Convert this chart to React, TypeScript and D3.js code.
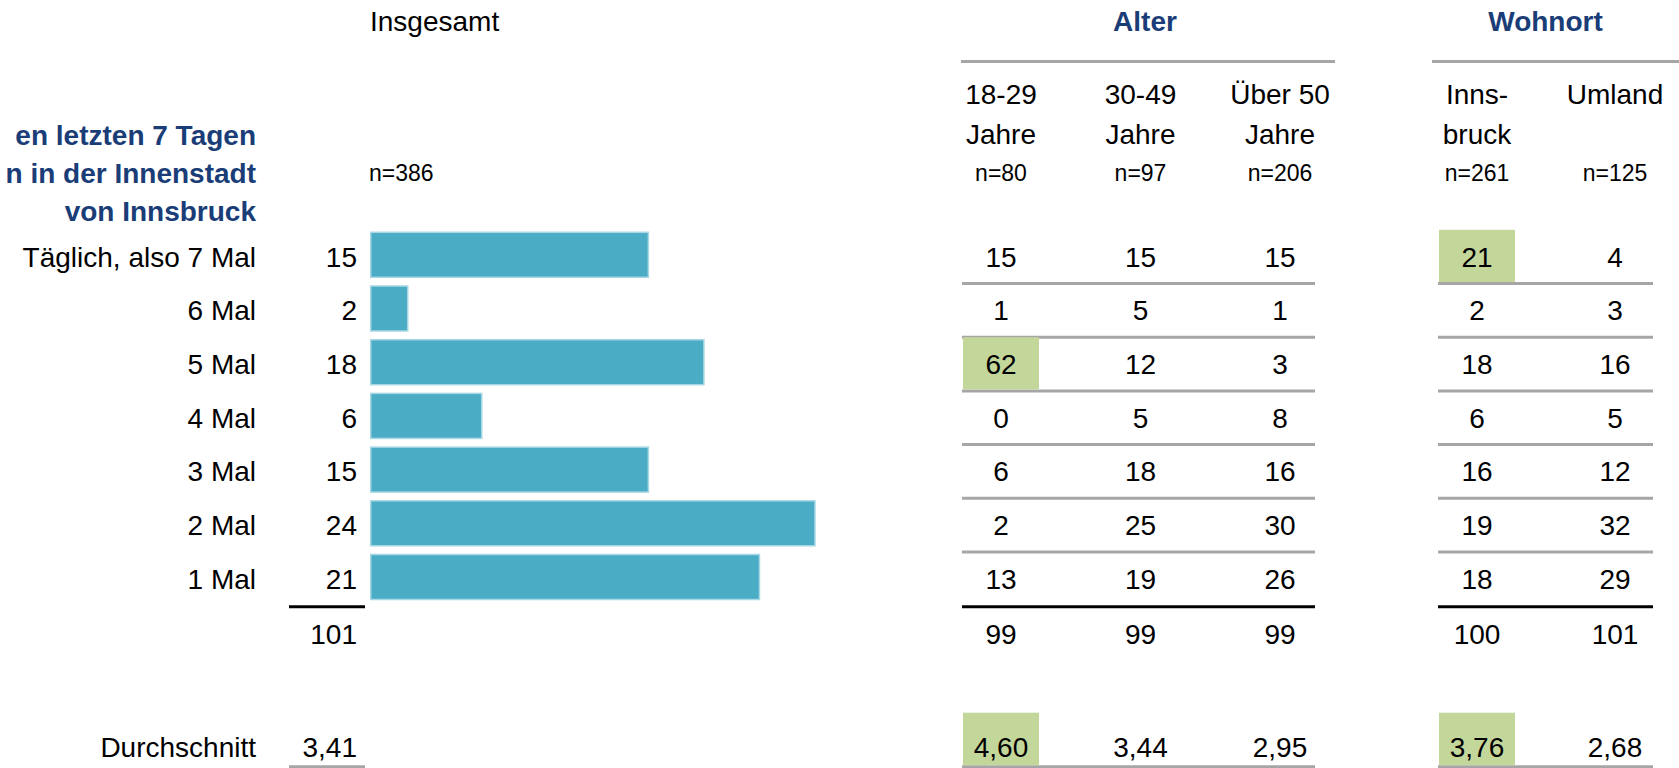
import React from "react";
import * as d3 from "d3";

const categories = ["Täglich, also 7 Mal", "6 Mal", "5 Mal", "4 Mal", "3 Mal", "2 Mal", "1 Mal"];
const insgesamt = [15, 2, 18, 6, 15, 24, 21];
const insgesamtTotal = "101";
const insgesamtAvg = "3,41";
const insgesamtN = "n=386";

const alterCols = ["18-29", "30-49", "Über 50"];
const alterHeader = [["18-29", "Jahre"], ["30-49", "Jahre"], ["Über 50", "Jahre"]];
const alterN = ["n=80", "n=97", "n=206"];
const alterValues = [
  [15, 1, 62, 0, 6, 2, 13],
  [15, 5, 12, 5, 18, 25, 19],
  [15, 1, 3, 8, 16, 30, 26],
];
const alterTotals = ["99", "99", "99"];
const alterAvg = ["4,60", "3,44", "2,95"];

const wohnCols = ["Innsbruck", "Umland"];
const wohnHeader = [["Inns-", "bruck"], ["Umland"]];
const wohnN = ["n=261", "n=125"];
const wohnValues = [
  [21, 2, 18, 6, 16, 19, 18],
  [4, 3, 16, 5, 12, 32, 29],
];
const wohnTotals = ["100", "101"];
const wohnAvg = ["3,76", "2,68"];

// highlighted cells: [column, rowIndex]
const highlights = [["18-29", 2], ["Innsbruck", 0]];
const avgHighlights = ["18-29", "Innsbruck"];

const titleLines = ["en letzten 7 Tagen", "n in der Innenstadt", "von Innsbruck"];

const W = 1679;
const H = 768;
const FONT = "'Liberation Sans', Arial, sans-serif";
const BLUE = "#1A3D78";
const GRAY = "#A6A6A6";
const BAR = "#4BACC6";
const GREEN = "#C4D79B";

export default function App() {
  const y = d3.scaleBand<string>().domain(categories).range([229.8, 229.8 + 7 * 53.7]).padding(0);
  const bw = y.bandwidth();
  const x = d3.scaleLinear().domain([0, 24]).range([370.7, 815]);
  const ax = d3.scalePoint<string>().domain(alterCols).range([1001, 1280]);
  const wx = d3.scalePoint<string>().domain(wohnCols).range([1477, 1615]);
  const colX = (c: string) => (alterCols.includes(c) ? ax(c)! : wx(c)!);
  const cellW = 76;

  const rowBase = (c: string) => y(c)! + bw / 2 + 10;
  const bottom = y.range()[1];
  const totalBase = bottom + 38;
  const avgBase = 757;
  const avgLine = 766.7;

  const allCols = [
    ...alterCols.map((c, i) => ({ c, vals: alterValues[i], total: alterTotals[i], avg: alterAvg[i], n: alterN[i], head: alterHeader[i] })),
    ...wohnCols.map((c, i) => ({ c, vals: wohnValues[i], total: wohnTotals[i], avg: wohnAvg[i], n: wohnN[i], head: wohnHeader[i] })),
  ];

  const groups = [
    { name: "Alter", cols: alterCols, x0: 961, x1: 1335, r0: 962, r1: 1315, off: -3 },
    { name: "Wohnort", cols: wohnCols, x0: 1432, x1: 1679, r0: 1438, r1: 1653, off: -10 },
  ];

  return (
    <svg width={W} height={H} style={{ position: "fixed", left: 0, top: 0, background: "#fff" }} fontFamily={FONT}>
      <rect x={0} y={0} width={W} height={H} fill="#fff" />
      {/* Left title */}
      {titleLines.map((t, i) => (
        <text key={t} x={256} y={145 + i * 38} textAnchor="end" fontSize={28} fontWeight="bold" fill={BLUE}>{t}</text>
      ))}
      <text x={370} y={31} fontSize={28} fill="#000">Insgesamt</text>
      <text x={369} y={181} fontSize={23} fill="#000">{insgesamtN}</text>

      {/* Group headers */}
      {groups.map((g) => (
        <g key={g.name}>
          <text x={(g.x0 + g.x1) / 2 + g.off} y={31} textAnchor="middle" fontSize={28} fontWeight="bold" fill={BLUE}>{g.name}</text>
          <line x1={g.x0} x2={g.x1} y1={61.5} y2={61.5} stroke={GRAY} strokeWidth={3} />
          {categories.slice(0, -1).map((c) => (
            <line key={c} x1={g.r0} x2={g.r1} y1={y(c)! + bw} y2={y(c)! + bw} stroke={GRAY} strokeWidth={3} />
          ))}
          <line x1={g.r0} x2={g.r1} y1={bottom + 1} y2={bottom + 1} stroke="#000" strokeWidth={3} />
          <line x1={g.r0} x2={g.r1} y1={avgLine} y2={avgLine} stroke={GRAY} strokeWidth={3} />
        </g>
      ))}

      {/* highlights */}
      {highlights.map(([c, r]) => {
        const cat = categories[r as number];
        return <rect key={`${c}-${r}`} x={colX(c as string) - cellW / 2} y={y(cat)!} width={cellW} height={bw - 1.5} fill={GREEN} />;
      })}
      {avgHighlights.map((c) => (
        <rect key={`avg-${c}`} x={colX(c) - cellW / 2} y={avgLine - 54} width={cellW} height={52.5} fill={GREEN} />
      ))}

      {/* column headers and values */}
      {allCols.map((col) => (
        <g key={col.c}>
          {col.head.map((h, i) => (
            <text key={h} x={colX(col.c)} y={104 + i * 39.5} textAnchor="middle" fontSize={28} fill="#000">{h}</text>
          ))}
          <text x={colX(col.c)} y={181} textAnchor="middle" fontSize={23} fill="#000">{col.n}</text>
          {col.vals.map((v, i) => (
            <text key={i} x={colX(col.c)} y={rowBase(categories[i])} textAnchor="middle" fontSize={28} fill="#000">{v}</text>
          ))}
          <text x={colX(col.c)} y={totalBase} textAnchor="middle" fontSize={28} fill="#000">{col.total}</text>
          <text x={colX(col.c)} y={avgBase} textAnchor="middle" fontSize={28} fill="#000">{col.avg}</text>
        </g>
      ))}

      {/* Left: category labels, values, bars */}
      {categories.map((c, i) => (
        <g key={c}>
          <text x={256} y={rowBase(c)} textAnchor="end" fontSize={28} fill="#000">{c}</text>
          <text x={357} y={rowBase(c)} textAnchor="end" fontSize={28} fill="#000">{insgesamt[i]}</text>
          <rect x={x(0)} y={y(c)! + 2.5} width={x(insgesamt[i]) - x(0)} height={45} fill={BAR} stroke="#A9D8E5" strokeWidth={1.5} />
        </g>
      ))}
      <line x1={289} x2={365} y1={bottom + 1} y2={bottom + 1} stroke="#000" strokeWidth={3} />
      <text x={357} y={totalBase} textAnchor="end" fontSize={28} fill="#000">{insgesamtTotal}</text>
      <text x={256} y={avgBase} textAnchor="end" fontSize={28} fill="#000">Durchschnitt</text>
      <text x={357} y={avgBase} textAnchor="end" fontSize={28} fill="#000">{insgesamtAvg}</text>
      <line x1={289} x2={365} y1={avgLine} y2={avgLine} stroke={GRAY} strokeWidth={3} />
    </svg>
  );
}
